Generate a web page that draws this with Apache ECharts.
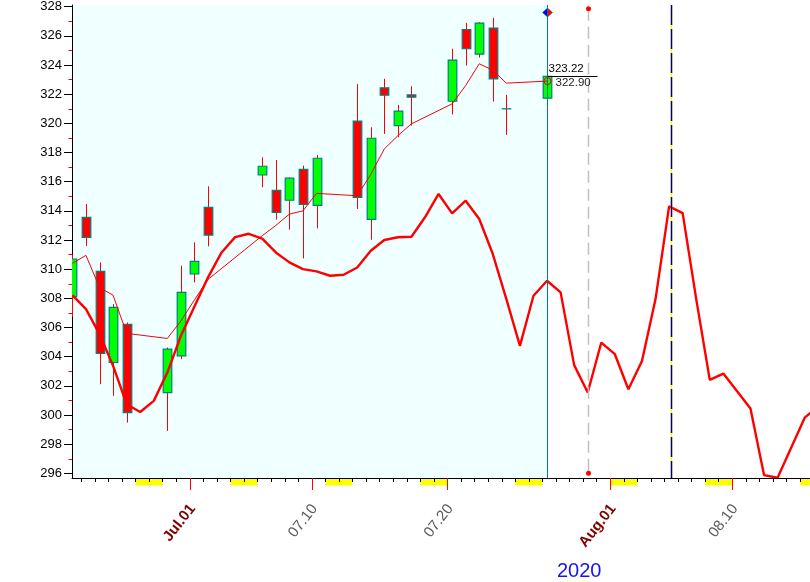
<!DOCTYPE html>
<html><head><meta charset="utf-8">
<script src="https://cdn.jsdelivr.net/npm/echarts@6/dist/echarts.min.js"></script>
<style>html,body{margin:0;padding:0;background:#fff}#c{width:810px;height:582px}</style>
</head><body><div id="c"></div>
<script>
// ---------------- data ----------------
const YEAR = 2020;
const tradeDates = ['06-22','06-23','06-24','06-25','06-26','06-29','06-30','07-01','07-02','07-06','07-07','07-08','07-09','07-10','07-13','07-14','07-15','07-16','07-17','07-20','07-21','07-22','07-23','07-24','07-27'];
const opens  = [308.11,313.56,309.85,303.60,306.21,301.54,304.06,309.67,314.24,316.46,315.41,314.73,316.85,314.38,320.15,313.42,322.44,319.85,321.95,321.52,326.44,324.75,326.54,321.00,321.73];
const closes = [310.70,312.18,304.22,307.38,300.17,304.52,308.41,310.54,312.34,317.06,313.90,316.24,314.45,317.61,314.93,318.98,321.93,320.84,321.80,324.34,325.12,326.88,323.06,321.00,323.22];
const lows   = [306.73,311.60,302.11,301.31,299.48,298.91,303.83,309.10,311.57,315.62,313.40,312.71,310.74,312.80,314.13,312.02,319.28,319.05,319.85,320.61,323.97,324.52,321.50,319.21,320.81];
const highs  = [311.00,314.47,310.47,307.60,306.35,304.63,310.24,311.84,315.69,317.68,317.49,316.30,317.10,317.84,322.71,319.74,323.06,321.27,322.55,325.12,326.90,326.95,327.24,321.96,323.22];
const maValues = [310.40,310.95,308.74,308.22,305.60,305.25,306.45,307.90,309.30,312.30,313.00,313.78,314.00,315.20,315.04,316.50,318.25,319.16,319.97,321.34,322.60,324.09,323.65,322.76,322.90];

const cycleDates = ['06-22','06-23','06-24','06-25','06-26','06-27','06-28','06-29','06-30','07-01','07-02','07-03','07-04','07-05','07-06','07-07','07-08','07-09','07-10','07-11','07-12','07-13','07-14','07-15','07-16','07-17','07-18','07-19','07-20','07-21','07-22','07-23','07-24','07-25','07-26','07-27','07-28','07-29','07-30','07-31','08-01','08-02','08-03','08-04','08-05','08-06','08-07','08-08','08-09','08-10','08-11','08-12','08-13','08-14','08-15','08-16'];
const cycleValues = [308.22,307.26,305.55,303.37,300.74,300.21,300.97,302.91,305.43,307.45,309.44,311.15,312.20,312.43,312.10,311.15,310.47,310.01,309.85,309.55,309.62,310.12,311.27,312.00,312.19,312.23,313.56,315.16,313.83,314.70,313.44,311.04,307.95,304.74,308.18,309.21,308.41,303.42,301.54,304.97,304.17,301.77,303.71,307.95,314.31,313.85,307.95,302.41,302.84,301.65,300.44,295.88,295.70,297.76,299.82,300.60];

const weekendStarts = ['06-27','07-04','07-11','07-18','07-25','08-01','08-08','08-15'];
const xTickDates  = ['07-01','07-10','07-20','08-01','08-10'];
const xTickLabels = ['Jul.01','07.10','07.20','Aug.01','08.10'];
const xTickIsMonth = [true,false,false,true,false];
const yTickValues  = [296,298,300,302,304,306,308,310,312,314,316,318,320,322,324,326,328];
const yMinorValues = [297,299,301,303,305,307,309,311,313,315,317,319,321,323,325,327];
const yearLabel = '2020';
const markerNow = '07-27', markerGray = '07-30', markerNavy = '08-05';
const closeLabel = '323.22', maLabel = '322.90';
const firstDay = '06-22', lastVisibleDay = '08-15';

// ---------------- helpers ----------------
function dayIndex(s){ const [m,d] = s.split('-').map(Number); const [m0,d0] = firstDay.split('-').map(Number); return (Date.UTC(YEAR, m-1, d) - Date.UTC(YEAR, m0-1, d0))/864e5; }
const POS = 0.34;               // bar position inside its day
const xMin = dayIndex(tradeDates[0]) + 0.31;
const xMax = dayIndex(lastVisibleDay) + 0.73;
const yMin = 295.68, yMax = 328.12;
const FONT = 'Liberation Sans, Arial, sans-serif';

const candleData = tradeDates.map((d,i)=>[dayIndex(d)+POS, opens[i], closes[i], lows[i], highs[i]]);
const maData = tradeDates.map((d,i)=>[dayIndex(d)+POS, maValues[i]]);
const cycleData = cycleDates.map((d,i)=>[dayIndex(d)+POS, cycleValues[i]]);
const dayTicks = []; for (let k = Math.ceil(xMin); k <= Math.floor(xMax); k++) dayTicks.push(k);
const majorTicks = xTickDates.map(dayIndex);
const labelMap = {}; majorTicks.forEach((v,i)=>{ labelMap[v] = (xTickIsMonth[i] ? '{m|' : '{d|') + xTickLabels[i] + '}'; });

const nowPos = dayIndex(markerNow) + POS;
const grayPos = dayIndex(markerGray) + POS;
const navyPos = dayIndex(markerNavy) + 0.5;

const TEAL = '#008080';

function renderCandle(params, api){
  const x = api.value(0), o = api.value(1), c = api.value(2), l = api.value(3), h = api.value(4);
  const pO = api.coord([x,o]), pC = api.coord([x,c]), pL = api.coord([x,l]), pH = api.coord([x,h]);
  const cx = Math.round(pO[0]) + 0.5;
  const w = 8.6;
  const top = Math.min(pO[1], pC[1]), bot = Math.max(pO[1], pC[1]);
  const ch = [{type:'line', shape:{x1:cx, y1:pH[1], x2:cx, y2:pL[1]}, style:{stroke:'#ff0000', lineWidth:1}}];
  if (bot - top < 1) {
    ch.push({type:'line', shape:{x1:cx-w/2-0.5, y1:pO[1], x2:cx+w/2+0.5, y2:pO[1]}, style:{stroke:TEAL, lineWidth:1.3}});
  } else {
    ch.push({type:'rect', shape:{x:cx-w/2, y:top, width:w, height:bot-top}, style:{fill: c >= o ? '#00ff00' : '#ff0000', stroke:TEAL, lineWidth:1.2}});
  }
  return {type:'group', children: ch};
}

function renderBackground(params, api){
  const p0 = api.coord([xMin, yMax]), p1 = api.coord([nowPos, yMin]);
  return {type:'rect', shape:{x:p0[0], y:p0[1], width:p1[0]-p0[0], height:p1[1]-p0[1]}, style:{fill:'#f0ffff'}};
}

function renderWeekend(params, api){
  const d = api.value(0);
  const p0 = api.coord([d, yMin]), p1 = api.coord([d+2, yMin]);
  return {type:'rect', shape:{x:p0[0], y:p0[1]+0.5, width:p1[0]-p0[0], height:7}, style:{fill:'#ffff00'}};
}

function renderMarkers(params, api){
  const top = api.coord([nowPos, yMax]), bot = api.coord([nowPos, yMin]);
  const tx = Math.round(top[0]) + 0.5;
  const g = api.coord([grayPos, yMax]); const gx = Math.round(g[0]) + 0.5;
  const gTop = api.coord([grayPos, 328]), gBot = api.coord([grayPos, 296]);
  const n = api.coord([navyPos, yMax]); const nx = Math.round(n[0]) + 0.5;
  const pc = api.coord([nowPos, closes[closes.length-1]]);
  const pm = api.coord([nowPos, maValues[maValues.length-1]]);
  const ly = Math.round(pc[1]) + 0.5;
  const dy = top[1] + 7.5;
  return {type:'group', children:[
    {type:'line', shape:{x1:tx, y1:top[1], x2:tx, y2:bot[1]}, style:{stroke:TEAL, lineWidth:1}},
    {type:'line', shape:{x1:gx, y1:gTop[1]+2, x2:gx, y2:gBot[1]}, style:{stroke:'#c0c0c0', lineWidth:1.5, lineDash:[12,6]}},
    {type:'circle', shape:{cx:gx, cy:gTop[1]+2, r:2.5}, style:{fill:'#ff0000'}},
    {type:'circle', shape:{cx:gx, cy:gBot[1], r:2.5}, style:{fill:'#ff0000'}},
    {type:'line', shape:{x1:nx, y1:top[1], x2:nx, y2:bot[1]}, style:{stroke:'#ffff00', lineWidth:1.5}},
    {type:'line', shape:{x1:nx, y1:top[1], x2:nx, y2:bot[1]}, style:{stroke:'#000080', lineWidth:1.5, lineDash:[20,4]}},
    {type:'line', shape:{x1:tx, y1:ly, x2:tx+50, y2:ly}, style:{stroke:'#000000', lineWidth:1}},
    {type:'text', style:{x:tx+1, y:ly-1.5, text:closeLabel, fill:'#000', fontSize:11.5, fontFamily:FONT, align:'left', verticalAlign:'bottom'}},
    {type:'text', style:{x:tx+8, y:ly+0.5, text:maLabel, fill:'#222', fontSize:11.5, fontFamily:FONT, align:'left', verticalAlign:'top'}},
    {type:'circle', shape:{cx:tx, cy:pm[1], r:3.5}, style:{fill:'none', stroke:'#ff0000', lineWidth:1}},
    {type:'polygon', shape:{points:[[tx-5,dy],[tx,dy-4.5],[tx,dy+4.5]]}, style:{fill:'#0000ff', stroke:TEAL, lineWidth:0.6}},
    {type:'polygon', shape:{points:[[tx,dy-4.5],[tx+5,dy],[tx,dy+4.5]]}, style:{fill:'#ff0000', stroke:TEAL, lineWidth:0.6}}
  ]};
}

const chart = echarts.init(document.getElementById('c'), null, {renderer:'canvas'});
chart.setOption({
  animation: false,
  backgroundColor: '#ffffff',
  textStyle: {fontFamily: FONT},
  grid: {left: 72, right: 0, top: 5, bottom: 104, containLabel: false, outerBoundsMode: 'none'},
  xAxis: [
    {type:'value', position:'bottom', min:xMin, max:xMax, z:6,
     axisLine:{show:true, lineStyle:{color:'#000', width:1}},
     axisTick:{show:true, customValues: dayTicks, length:4, lineStyle:{color:'#000', width:1}},
     axisLabel:{show:false}, splitLine:{show:false}},
    {type:'value', position:'bottom', min:xMin, max:xMax, z:7,
     axisLine:{show:false},
     axisTick:{show:true, customValues: majorTicks, length:12, lineStyle:{color:'#ff0000', width:1}},
     axisLabel:{show:true, customValues: majorTicks, rotate:52, margin:26, fontSize:15, padding:[7,0,0,0],
       formatter: v => labelMap[v] || '',
       rich:{ m:{color:'#800000', fontWeight:'bold', fontSize:15, fontFamily:FONT}, d:{color:'#5a5a5a', fontSize:15, fontFamily:FONT} }},
     splitLine:{show:false}}
  ],
  yAxis: [
    {type:'value', position:'left', min:yMin, max:yMax,
     axisLine:{show:true, lineStyle:{color:'#000', width:1}},
     axisTick:{show:true, customValues: yTickValues, length:8, lineStyle:{color:'#000', width:1}},
     axisLabel:{show:true, customValues: yTickValues, color:'#000', fontSize:13, margin:10, fontFamily:FONT},
     splitLine:{show:false}},
    {type:'value', position:'left', min:yMin, max:yMax,
     axisLine:{show:false},
     axisTick:{show:true, customValues: yMinorValues, length:3.5, lineStyle:{color:'#ff0000', width:1}},
     axisLabel:{show:false}, splitLine:{show:false}}
  ],
  graphic: [{type:'text', left:557, top:561, style:{text:yearLabel, fill:'#1414f0', fontSize:20, fontFamily:FONT}}],
  series: [
    {type:'custom', name:'bg', renderItem: renderBackground, data:[[xMin, yMin]], encode:{x:0, y:1}, z:0, silent:true, clip:true},
    {type:'custom', name:'weekend', renderItem: renderWeekend, data: weekendStarts.map(d=>[dayIndex(d), yMin]), encode:{x:0, y:1}, z:1, silent:true, clip:false},
    {type:'custom', name:'candles', renderItem: renderCandle, data: candleData, encode:{x:0, y:[1,2,3,4]}, z:2, clip:true},
    {type:'line', name:'ma', data: maData, showSymbol:false, symbol:'none', lineStyle:{color:'#ff0000', width:1}, z:3},
    {type:'line', name:'cycle', data: cycleData, showSymbol:false, symbol:'none', lineStyle:{color:'#ff0000', width:2.4}, z:4},
    {type:'custom', name:'markers', renderItem: renderMarkers, data:[[nowPos, closes[closes.length-1]]], encode:{x:0, y:1}, z:5, clip:false, silent:true}
  ]
});
</script></body></html>
